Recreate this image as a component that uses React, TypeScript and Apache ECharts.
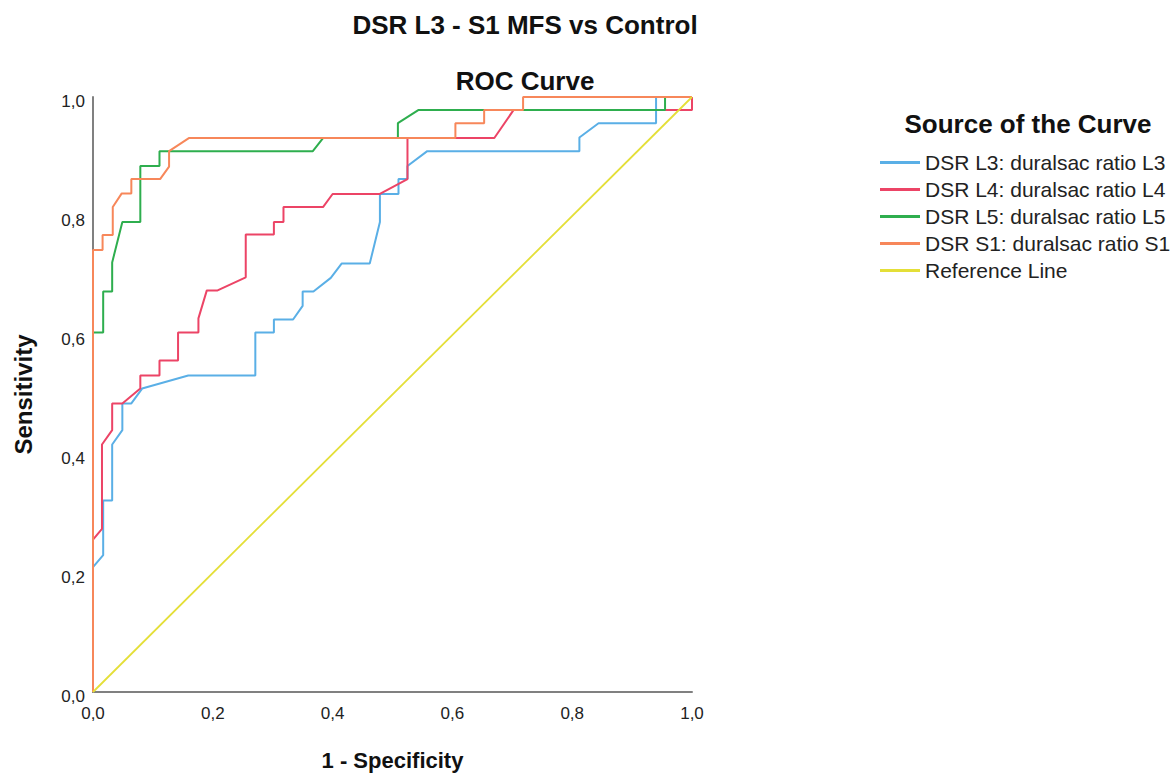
import React, { useEffect, useRef } from "react";
import * as echarts from "echarts";

const FONT = "'Liberation Sans', Arial, sans-serif";

const chartTitle = "DSR L3 - S1 MFS vs Control";
const chartSubtitle = "ROC Curve";
const legendTitle = "Source of the Curve";
const xAxisName = "1 - Specificity";
const yAxisName = "Sensitivity";

const seriesNames = [
  "DSR L3: duralsac ratio L3",
  "DSR L4: duralsac ratio L4",
  "DSR L5: duralsac ratio L5",
  "DSR S1: duralsac ratio S1",
  "Reference Line",
];
const seriesColors = ["#5AAFE6", "#EC4466", "#2EAE4E", "#F7875A", "#E4DF38"];

// [1 - specificity, sensitivity]
const rocL3: [number, number][] = [
  [0, 0], [0, 0.21], [0.017, 0.23], [0.017, 0.322], [0.032, 0.322], [0.032, 0.416],
  [0.049, 0.44], [0.049, 0.485], [0.064, 0.485], [0.082, 0.51], [0.159, 0.532],
  [0.271, 0.532], [0.271, 0.604], [0.302, 0.604], [0.302, 0.626], [0.334, 0.626],
  [0.35, 0.649], [0.35, 0.673], [0.368, 0.673], [0.397, 0.696], [0.415, 0.72],
  [0.462, 0.72], [0.479, 0.79], [0.479, 0.837], [0.51, 0.837], [0.51, 0.862],
  [0.525, 0.862], [0.525, 0.884], [0.558, 0.909], [0.812, 0.909], [0.812, 0.932],
  [0.844, 0.956], [0.94, 0.956], [0.94, 1], [1, 1],
];
const rocL4: [number, number][] = [
  [0, 0], [0, 0.256], [0.015, 0.274], [0.015, 0.416], [0.032, 0.44], [0.032, 0.485],
  [0.049, 0.485], [0.079, 0.51], [0.079, 0.532], [0.111, 0.532], [0.111, 0.557],
  [0.142, 0.557], [0.142, 0.604], [0.176, 0.604], [0.176, 0.628], [0.19, 0.675],
  [0.208, 0.675], [0.255, 0.697], [0.255, 0.769], [0.302, 0.769], [0.302, 0.79],
  [0.318, 0.79], [0.318, 0.815], [0.384, 0.815], [0.4, 0.837], [0.479, 0.837],
  [0.525, 0.862], [0.525, 0.931], [0.67, 0.931], [0.702, 0.978], [1, 0.978], [1, 1],
];
const rocL5: [number, number][] = [
  [0, 0], [0, 0.604], [0.017, 0.604], [0.017, 0.673], [0.032, 0.673], [0.032, 0.722],
  [0.049, 0.79], [0.079, 0.79], [0.079, 0.884], [0.111, 0.884], [0.111, 0.909],
  [0.367, 0.909], [0.384, 0.931], [0.509, 0.931], [0.509, 0.956], [0.543, 0.978],
  [0.955, 0.978], [0.955, 1], [1, 1],
];
const rocS1: [number, number][] = [
  [0, 0], [0, 0.743], [0.016, 0.743], [0.016, 0.768], [0.033, 0.768], [0.033, 0.815],
  [0.048, 0.838], [0.064, 0.838], [0.064, 0.862], [0.112, 0.862], [0.127, 0.883],
  [0.127, 0.909], [0.16, 0.931], [0.605, 0.931], [0.605, 0.956], [0.653, 0.956],
  [0.653, 0.978], [0.718, 0.978], [0.718, 1], [1, 1],
];
const referenceLine: [number, number][] = [[0, 0], [1, 1]];

const seriesData = [rocL3, rocL4, rocL5, rocS1, referenceLine];

export default function App() {
  const ref = useRef<HTMLDivElement>(null);
  useEffect(() => {
    if (!ref.current) return;
    const chart = echarts.init(ref.current, null, { renderer: "svg" });
    const fmt = (v: number) => v.toFixed(1).replace(".", ",");
    chart.setOption({
      animation: false,
      backgroundColor: "#ffffff",
      textStyle: { fontFamily: FONT },
      title: [
        {
          text: chartTitle,
          left: 520,
          top: 7,
          textAlign: "center",
          textStyle: { fontFamily: FONT, fontSize: 26, fontWeight: "bold", color: "#111" },
        },
        {
          text: chartSubtitle,
          left: 520,
          top: 63,
          textAlign: "center",
          textStyle: { fontFamily: FONT, fontSize: 26, fontWeight: "bold", color: "#111" },
        },
        {
          text: legendTitle,
          left: 1023,
          top: 106,
          textAlign: "center",
          textStyle: { fontFamily: FONT, fontSize: 26, fontWeight: "bold", color: "#111" },
        },
      ],
      legend: {
        orient: "vertical",
        left: 875,
        top: 144,
        icon: "rect",
        itemWidth: 40,
        itemHeight: 3,
        itemGap: 0,
        data: seriesNames,
        textStyle: { fontFamily: FONT, fontSize: 21, color: "#222", lineHeight: 27 },
      },
      grid: { left: 93, top: 97, width: 599, height: 598 },
      xAxis: {
        type: "value",
        min: 0,
        max: 1,
        interval: 0.2,
        name: xAxisName,
        nameLocation: "middle",
        nameGap: 57,
        nameTextStyle: { fontFamily: FONT, fontSize: 22, fontWeight: "bold", color: "#111" },
        axisLine: { show: true, lineStyle: { color: "#808080", width: 2 } },
        axisTick: { show: false },
        splitLine: { show: false },
        axisLabel: { formatter: fmt, fontFamily: FONT, fontSize: 17, color: "#222", margin: 13 },
      },
      yAxis: {
        type: "value",
        min: 0,
        max: 1,
        interval: 0.2,
        name: yAxisName,
        nameLocation: "middle",
        nameGap: 58,
        nameTextStyle: { fontFamily: FONT, fontSize: 24, fontWeight: "bold", color: "#111" },
        axisLine: { show: true, lineStyle: { color: "#808080", width: 2 } },
        axisTick: { show: false },
        splitLine: { show: false },
        axisLabel: {
          formatter: fmt,
          fontFamily: FONT,
          fontSize: 17,
          color: "#222",
          margin: 8,
          verticalAlign: "top",
          lineHeight: 9,
        },
      },
      series: seriesNames.map((name, i) => ({
        name,
        type: "line",
        data: seriesData[i],
        showSymbol: false,
        symbol: "none",
        color: seriesColors[i],
        lineStyle: { color: seriesColors[i], width: i === 4 ? 1.8 : 2 },
        z: 2 + i,
      })),
    });
    return () => chart.dispose();
  }, []);
  return (
    <div
      ref={ref}
      style={{ position: "fixed", left: 0, top: 0, width: 1173, height: 776 }}
    />
  );
}
